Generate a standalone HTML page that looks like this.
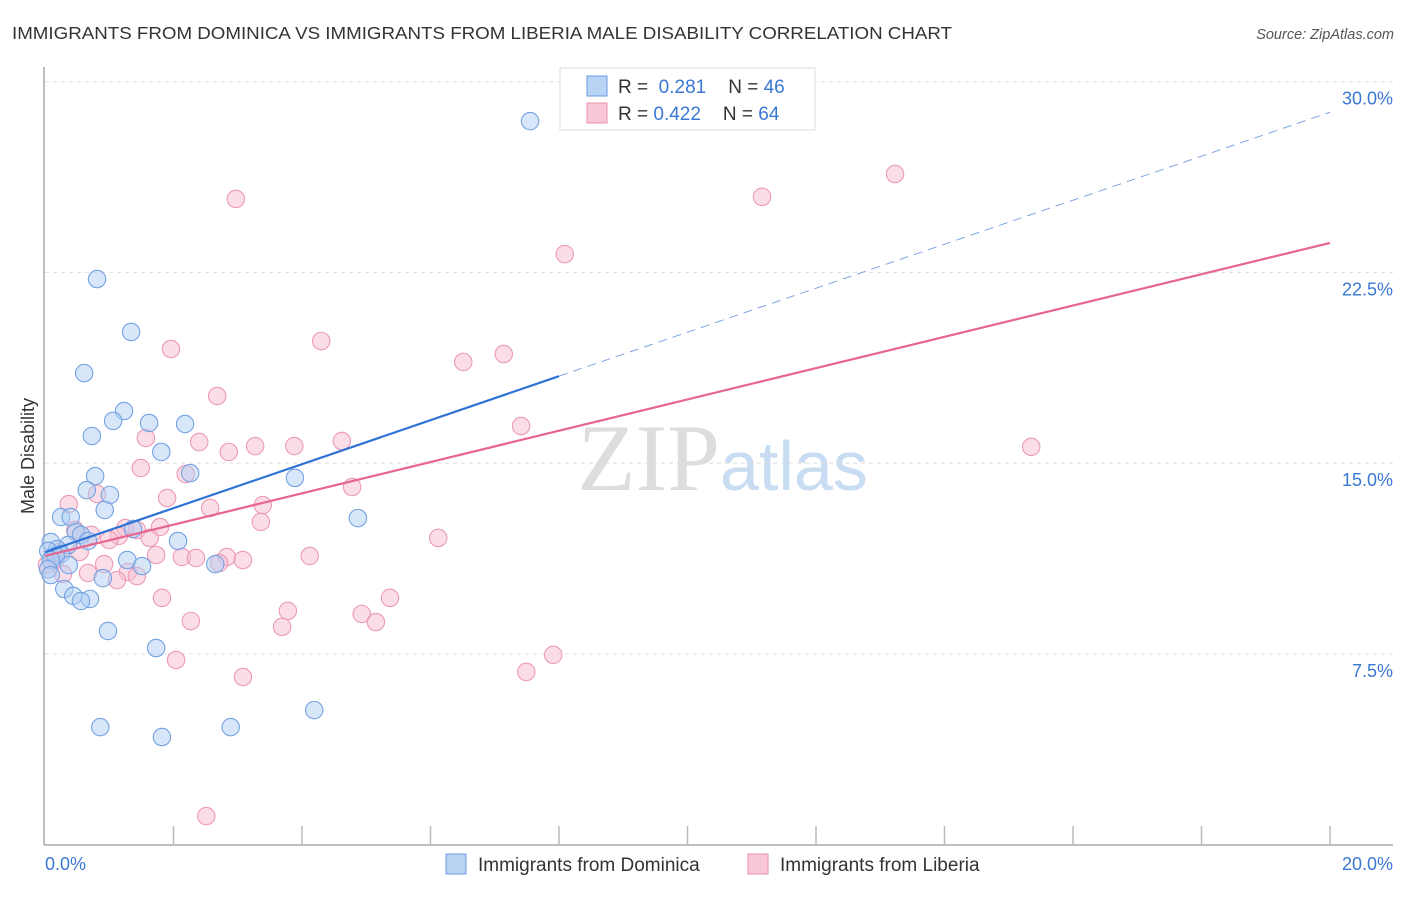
<!DOCTYPE html>
<html><head><meta charset="utf-8"><style>
body{margin:0;background:#fff;font-family:"Liberation Sans",sans-serif}
</style></head><body>
<svg width="1406" height="892" xmlns="http://www.w3.org/2000/svg" style="font-family:'Liberation Sans',sans-serif">
<text x="12" y="39" font-size="17.5" fill="#333" textLength="940" lengthAdjust="spacingAndGlyphs">IMMIGRANTS FROM DOMINICA VS IMMIGRANTS FROM LIBERIA MALE DISABILITY CORRELATION CHART</text>
<text x="1394" y="39" font-size="14.5" fill="#555" font-style="italic" text-anchor="end">Source: ZipAtlas.com</text>
<text x="720" y="490" font-size="95" fill="#ddd" text-anchor="end" font-family="Liberation Serif,serif">ZIP</text>
<text x="720" y="490" font-size="70" fill="#c8dcf2">atlas</text>
<g id="grid"></g>
<g id="axes"></g>
<g id="pts"></g>
<g id="trend"></g>
<text x="34" y="456" font-size="18" fill="#333" text-anchor="middle" transform="rotate(-90 34 456)">Male Disability</text>
<g>
<rect x="560" y="68" width="255" height="62" fill="#fff" stroke="#ddd"/>
<rect x="587" y="76" width="20" height="20" fill="#b9d3f5" stroke="#6a9be0"/>
<rect x="587" y="103" width="20" height="20" fill="#f9c8d8" stroke="#e890ae"/>
<text x="618" y="93" font-size="19" fill="#333">R = <tspan fill="#3a78d4">&#160;0.281</tspan><tspan dx="22">N = </tspan><tspan fill="#3a78d4">46</tspan></text>
<text x="618" y="120" font-size="19" fill="#333">R = <tspan fill="#3a78d4">0.422</tspan><tspan dx="22">N = </tspan><tspan fill="#3a78d4">64</tspan></text>
</g>
<g>
<rect x="446" y="854" width="20" height="20" fill="#b9d3f5" stroke="#6a9be0"/>
<text x="478" y="871" font-size="19" fill="#333">Immigrants from Dominica</text>
<rect x="748" y="854" width="20" height="20" fill="#f9c8d8" stroke="#e890ae"/>
<text x="780" y="871" font-size="19" fill="#333">Immigrants from Liberia</text>
</g>
</svg>
<script>
const yTicks=[7.5,15,22.5,30];
const yTickLabels=["7.5%","15.0%","22.5%","30.0%"];
const xTicks=[0,2,4,6,8,10,12,14,16,18,20];
const xTickLabels=["0.0%","20.0%"];
const domX=[0.81,1.34,0.61,1.23,1.06,1.62,2.18,0.73,1.81,0.78,2.26,3.89,0.65,1.01,0.93,0.25,0.40,4.87,1.37,0.48,0.56,0.67,2.07,0.09,0.36,0.19,0.05,0.25,0.17,0.09,1.28,0.37,1.51,2.65,0.05,0.09,0.90,0.30,0.44,0.70,0.56,0.98,1.73,4.19,0.86,2.89,1.82,7.55];
const domY=[22.24,20.16,18.54,17.05,16.66,16.58,16.54,16.07,15.44,14.49,14.61,14.42,13.94,13.75,13.16,12.88,12.88,12.84,12.41,12.29,12.18,11.94,11.94,11.90,11.78,11.62,11.55,11.43,11.35,11.19,11.19,10.99,10.95,11.03,10.83,10.60,10.48,10.05,9.78,9.66,9.58,8.40,7.73,5.29,4.62,4.62,4.23,28.45];
const libX=[2.97,13.23,11.16,8.09,1.96,4.30,7.14,6.51,2.68,7.41,1.57,4.62,2.40,3.27,3.88,2.86,1.49,2.19,4.78,1.90,0.81,0.37,3.39,2.57,3.36,1.25,1.43,0.47,0.72,1.15,1.00,6.12,1.63,0.54,1.73,4.12,2.13,2.35,2.83,3.08,2.71,0.92,0.28,0.67,1.29,1.43,1.12,1.82,5.37,3.78,4.93,2.27,5.15,3.69,2.04,7.91,3.08,7.49,2.51,15.35,0.16,0.23,0.03,1.79];
const libY=[25.39,26.37,25.47,23.22,19.49,19.80,19.29,18.98,17.64,16.46,15.99,15.87,15.83,15.67,15.67,15.44,14.81,14.57,14.06,13.63,13.79,13.39,13.35,13.24,12.69,12.45,12.37,12.37,12.18,12.14,11.98,12.06,12.06,11.51,11.39,11.35,11.31,11.27,11.31,11.19,11.07,11.03,10.64,10.68,10.72,10.56,10.40,9.70,9.70,9.19,9.07,8.79,8.75,8.56,7.26,7.46,6.59,6.79,1.12,15.64,11.19,11.51,11.00,12.49];
const domTrend=[11.5,28.8];
const libTrend=[11.35,23.66];
const domSolidEnd=8.0;
const NS="http://www.w3.org/2000/svg";
const sx=v=>45+v*64.25, sy=v=>844.6-v*25.43;
function mk(p,t,a){const e=document.createElementNS(NS,t);for(const k in a)e.setAttribute(k,a[k]);p.appendChild(e);return e;}
const grid=document.getElementById('grid'),axes=document.getElementById('axes'),pts=document.getElementById('pts'),tr=document.getElementById('trend');
yTicks.forEach((t,i)=>{
 const l=mk(grid,'line',{x1:45,x2:1393,y1:sy(t),y2:sy(t),stroke:'#ddd','stroke-dasharray':'4,4'});
 
 
 const tx=mk(axes,'text',{x:1393,y:sy(t)+23,'font-size':18,fill:'#3a78d4','text-anchor':'end'});
 tx.textContent=yTickLabels[i];
 
 
});
const ya=mk(axes,'line',{x1:44,x2:44,y1:67,y2:845,stroke:'#aaa','stroke-width':1.5});


const xa=mk(axes,'line',{x1:44,x2:1393,y1:845,y2:845,stroke:'#aaa','stroke-width':1.5});


xTicks.forEach(t=>{if(t===0)return;
 const l=mk(axes,'line',{x1:sx(t),x2:sx(t),y1:826,y2:845,stroke:'#bbb','stroke-width':1.5});
 
 
});
[[0,'start',45],[1,'end',1393]].forEach(([i,a,x])=>{
 const tx=mk(axes,'text',{x:x,y:870,'font-size':18,fill:'#3a78d4','text-anchor':a});
 tx.textContent=xTickLabels[i];
 
 
});
function dots(X,Y,fill,stroke,name){X.forEach((x,i)=>{
 const c=mk(pts,'circle',{cx:sx(x),cy:sy(Y[i]),r:8.7,fill:fill,'fill-opacity':0.5,stroke:stroke,'stroke-width':1.1});
 
 
});}
dots(libX,libY,'#f7bcd0','#eb9ab5','point-liberia');
dots(domX,domY,'#b0cdf3','#74a2e2','point-dominica');
const f=(tt,x)=>tt[0]+(tt[1]-tt[0])*x/20;
const b1=mk(tr,'line',{x1:sx(0),y1:sy(f(domTrend,0)),x2:sx(domSolidEnd),y2:sy(f(domTrend,domSolidEnd)),stroke:'#2f72d6','stroke-width':2.2});


const b2=mk(tr,'line',{x1:sx(domSolidEnd),y1:sy(f(domTrend,domSolidEnd)),x2:sx(20),y2:sy(f(domTrend,20)),stroke:'#7fa6df','stroke-width':1,'stroke-dasharray':'9,6'});


const p1=mk(tr,'line',{x1:sx(0),y1:sy(f(libTrend,0)),x2:sx(20),y2:sy(f(libTrend,20)),stroke:'#e6668f','stroke-width':2.2});


</script>
</body></html>
